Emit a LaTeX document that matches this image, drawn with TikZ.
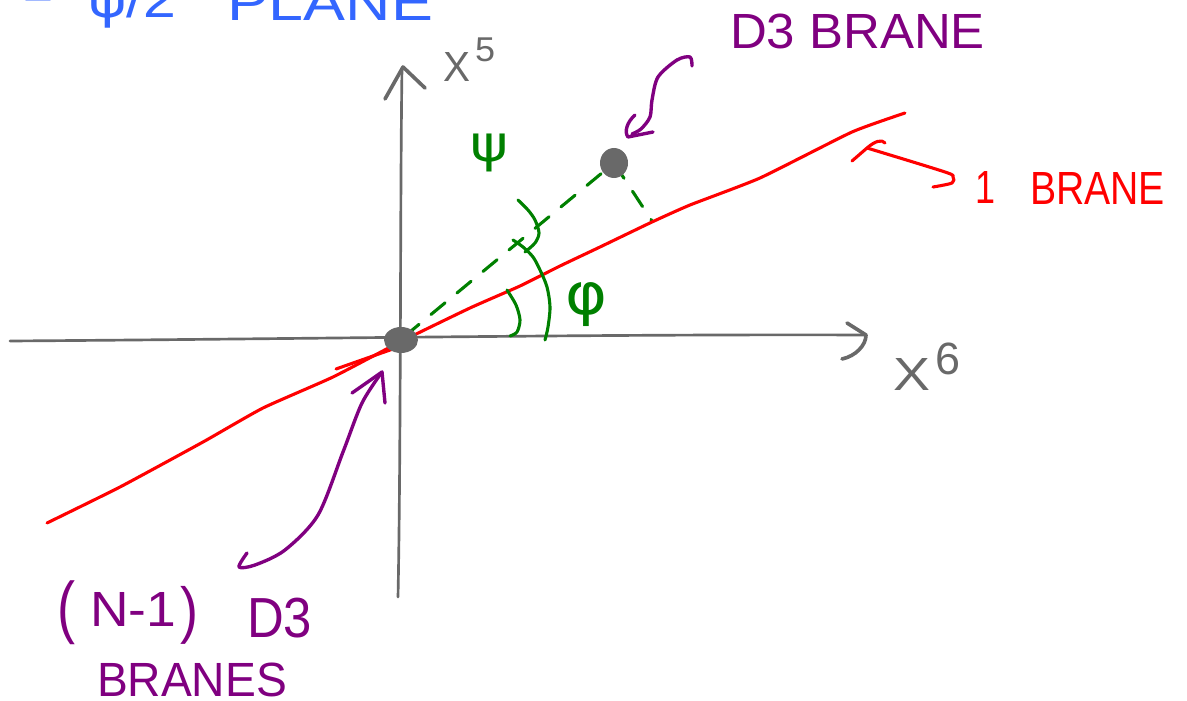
\documentclass[tikz,border=0pt]{standalone}
\usepackage{fontspec}
\setmainfont{Liberation Sans}
\newfontfamily\dejavu{DejaVu Sans}
\usepackage{graphicx}
\usetikzlibrary{shapes.geometric}
\newlength\pxl \setlength\pxl{0.025cm}
\newcommand\hwr[3]{\resizebox*{#1\pxl}{#2\pxl}{#3}}
\definecolor{skgray}{RGB}{105,105,105}
\definecolor{skred}{RGB}{255,0,0}
\definecolor{skgreen}{RGB}{0,128,0}
\definecolor{skpurple}{RGB}{128,0,128}
\definecolor{skblue}{RGB}{51,102,255}
\begin{document}
\begin{tikzpicture}[x=0.025cm,y=-0.025cm,line cap=round,line join=round,
  axisline/.style={skgray,line width=1.9pt},
  axishead/.style={skgray,line width=2.6pt},
  redpen/.style={skred,line width=2.2pt},
  gpen/.style={skgreen,line width=2.2pt},
  gdash/.style={skgreen,line width=2.2pt,dash pattern=on 13pt off 11pt},
  ppen/.style={skpurple,line width=2.4pt},
  lbl/.style={inner sep=0pt,outer sep=0pt,anchor=north west,font=\fontsize{35pt}{40pt}\selectfont},
  lblb/.style={lbl,anchor=south west},
  dotshape/.style={ellipse,fill=skgray,inner sep=0pt}]
\useasboundingbox (0,0) rectangle (1187,701);

% title (cut off at top)
\node[lblb,text=skblue] (eq) at (23,9) {\hwr{30}{22}{=}};
\node[lblb,text=skblue] (frac) at (88,28) {\hwr{88}{48}{{\dejavu ψ}/2}};
\node[lblb,text=skblue] (plane) at (227,21) {\hwr{206}{36}{PLANE}};

% axes
\coordinate (xl) at (10,341);
\coordinate (xr) at (866,335);
\coordinate (yb) at (398,597);
\coordinate (yt) at (402,68);
\draw[axisline] (xl) .. controls (300,339) and (600,334) .. (xr);
\draw[axishead] (847,323) -- (xr) .. controls (866,345) and (856,356) .. (842,359);
\draw[axisline] (yb) .. controls (401,450) and (400,200) .. (yt);
\draw[axishead] (385,99) -- (403,67) -- (425,88);
\node[lbl,text=skgray] (x5) at (443,53) {\hwr{27}{29}{X}};
\node[lbl,text=skgray] (x5s) at (475,38) {\hwr{20}{24}{5}};
\node[lbl,text=skgray] (x6) at (893,358) {\hwr{37}{32}{X}};
\node[lbl,text=skgray] (x6s) at (935,343) {\hwr{25}{32}{6}};

% dashed green lines
\coordinate (dstart) at (405,336);
\coordinate (foot) at (652,221);
\coordinate (d3c) at (614,163);
\draw[gdash] (dstart) -- (d3c);
\draw[gdash] (d3c) -- (foot);

% red brane line
\draw[redpen] plot[smooth,tension=0.3] coordinates {(47,523) (120,487) (203,442) (263,408) (333,377) (400,342) (470,308) (520,286) (560,266) (600,247) (652,222) (690,205) (760,178) (852,132) (905,113)};
\draw[redpen] (336,369) -- (410,343);

% angle arcs
\draw[gpen] plot[smooth] coordinates {(507,290) (516,305) (520,320) (517,332) (510,336)};
\draw[gpen] plot[smooth] coordinates {(513,240) (523,247) (533,257) (540,270) (547,287) (550,307) (548,327) (545,340)};
\draw[gpen] plot[smooth] coordinates {(518,200) (528,210) (535,220) (539,233) (535,243) (525,252)};
\node[lbl,text=skgreen] (psi) at (470,134) {\hwr{38}{38}{\dejavu ψ}};
\node[lbl,text=skgreen] (phi) at (565,283) {\hwr{42}{44}{\dejavu φ}};

% dots
\node[dotshape,minimum width=0.85cm,minimum height=0.65cm] (o) at (401,340) {};
\node[dotshape,minimum width=0.7cm,minimum height=0.75cm] (d3) at (d3c) {};

% D3 brane label and arrow
\node[lbl,text=skpurple] (d3lbl) at (730,14) {\hwr{255}{35}{D3 BRANE}};
\coordinate (a1s) at (692,66);
\coordinate (a1t) at (632,134);
\draw[ppen] plot[smooth] coordinates {(a1s) (690,57) (677,60) (658,77) (652,100) (650,117) (641,129) (a1t)};
\draw[ppen] (635,115) .. controls (627,122) and (624,132) .. (628,137) -- (653,132);

% (N-1) D3 branes label and arrow
\node[lbl,text=skpurple] (lp) at (57,581) {\hwr{18}{64}{(}};
\node[lbl,text=skpurple] (nm1) at (90,592) {\hwr{86}{34}{N-1}};
\node[lbl,text=skpurple] (rp) at (180,586) {\hwr{18}{58}{)}};
\node[lbl,text=skpurple] (nd3) at (247,598) {\hwr{65}{40}{D3}};
\node[lbl,text=skpurple] (nbr) at (97,663) {\hwr{190}{34}{BRANES}};
\coordinate (a2s) at (247,553);
\coordinate (a2t) at (382,372);
\draw[ppen] plot[smooth] coordinates {(a2s) (239,567) (255,565) (285,550) (318,515) (343,452) (362,403) (a2t)};
\draw[ppen] (352,393) -- (a2t) -- (385,403);

% 1 brane label and arrow
\node[lbl,text=skred] (one) at (975,172) {\hwr{20}{32}{1}};
\node[lbl,text=skred] (brlbl) at (1030,173) {\hwr{135}{32}{BRANE}};
\coordinate (a3s) at (933,187);
\coordinate (a3t) at (867,148);
\draw[redpen] plot[smooth] coordinates {(a3s) (952,183) (953,177) (945,172) (a3t)};
\draw[redpen] (852,161) -- (a3t) .. controls (875,141) and (882,139) .. (885,143);
\end{tikzpicture}
\end{document}
